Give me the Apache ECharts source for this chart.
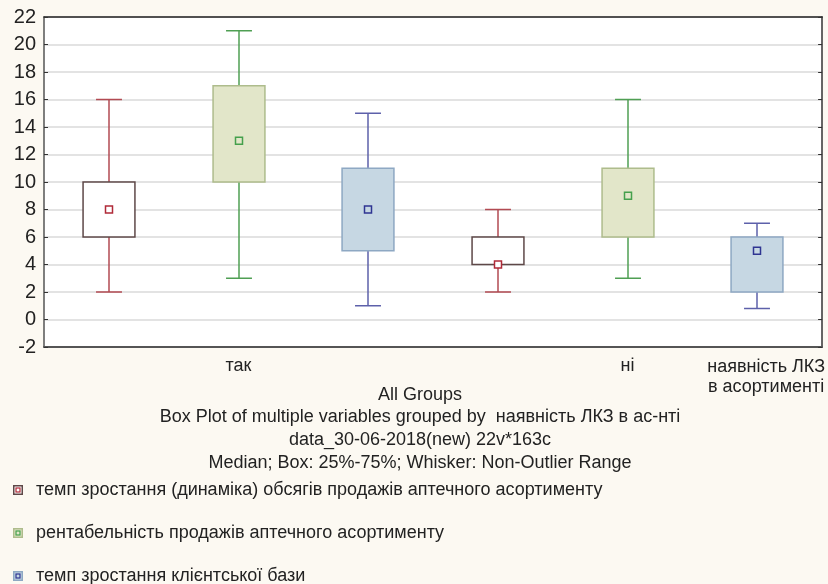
<!DOCTYPE html>
<html>
<head>
<meta charset="utf-8">
<script src="https://cdn.jsdelivr.net/npm/echarts@6/dist/echarts.min.js"></script>
<style>
html,body{margin:0;padding:0;background:#fcf9f2;}
#chart{width:828px;height:584px;}
</style>
</head>
<body>
<div id="chart"></div>
<script>
// ---- data ----
const groups = ['так', 'ні'];
const seriesNames = [
  'темп зростання (динаміка) обсягів продажів аптечного асортименту',
  'рентабельність продажів аптечного асортименту',
  'темп зростання клієнтської бази'
];
// [min, Q1, median, Q3, max] per group (так, ні)
const salesGrowth   = [[2, 6, 8, 10, 16], [2, 4, 4, 6, 8]];
const profitability = [[3, 10, 13, 17, 21], [3, 6, 9, 11, 16]];
const clientGrowth  = [[1, 5, 8, 11, 15], [0.8, 2, 5, 6, 7]];
const yMin = -2, yMax = 22, yInterval = 2;
const xAxisName = 'наявність ЛКЗ\nв асортименті';
const titleLines = [
  'All Groups',
  'Box Plot of multiple variables grouped by  наявність ЛКЗ в ас-нті',
  'data_30-06-2018(new) 22v*163c',
  'Median; Box: 25%-75%; Whisker: Non-Outlier Range'
];

// ---- styles ----
const FONT = '"Liberation Sans", Arial, sans-serif';
const styles = [
  {whisker: '#b24a52', fill: '#ffffff', border: '#5e4848', med: '#b02a38', medFill: '#ffffff'},
  {whisker: '#4f9f53', fill: '#e2e6c9', border: '#aebc8c', med: '#45a04c', medFill: '#e2e6c9'},
  {whisker: '#5d60aa', fill: '#c6d7e3', border: '#8ea8c3', med: '#2f3592', medFill: '#c6d7e3'}
];
const allSeries = [salesGrowth, profitability, clientGrowth];
const nSeries = allSeries.length;
const slots = [];
groups.forEach(g => seriesNames.forEach((s, i) => slots.push(g + '|' + i)));

function makeRender(st) {
  return function (params, api) {
    const x = api.value(0);
    const c = v => api.coord([x, v]);
    const pMin = c(api.value(1)), pQ1 = c(api.value(2)), pMed = c(api.value(3)),
          pQ3 = c(api.value(4)), pMax = c(api.value(5));
    const band = api.size([1, 0])[0];
    const bw = band * 0.4, cw = band * 0.2;
    const cx = Math.round(pMed[0]);
    const ls = {stroke: st.whisker, lineWidth: 1.5};
    return {
      type: 'group',
      children: [
        {type: 'line', shape: {x1: cx, y1: pMax[1], x2: cx, y2: pQ3[1]}, style: ls},
        {type: 'line', shape: {x1: cx, y1: pQ1[1], x2: cx, y2: pMin[1]}, style: ls},
        {type: 'line', shape: {x1: cx - cw / 2, y1: pMax[1], x2: cx + cw / 2, y2: pMax[1]}, style: ls},
        {type: 'line', shape: {x1: cx - cw / 2, y1: pMin[1], x2: cx + cw / 2, y2: pMin[1]}, style: ls},
        {type: 'rect', shape: {x: cx - bw / 2, y: pQ3[1], width: bw, height: pQ1[1] - pQ3[1]},
         style: {fill: st.fill, stroke: st.border, lineWidth: 1.5}},
        {type: 'rect', shape: {x: cx - 3.5, y: pMed[1] - 3.5, width: 7, height: 7},
         style: {fill: st.medFill, stroke: st.med, lineWidth: 1.5}}
      ]
    };
  };
}

function legendIcon(st) {
  const svg = "<svg xmlns='http://www.w3.org/2000/svg' width='18' height='10'>" +
    "<rect x='0.75' y='0.75' width='8.5' height='8.5' fill='" + st.fill + "' stroke='" + st.border + "' stroke-width='1.5'/>" +
    "<rect x='3' y='3' width='4' height='4' fill='none' stroke='" + st.med + "' stroke-width='1.2'/></svg>";
  return 'image://data:image/svg+xml;charset=utf-8,' + encodeURIComponent(svg);
}

const series = allSeries.map((vals, si) => ({
  name: seriesNames[si],
  type: 'custom',
  xAxisIndex: 0,
  yAxisIndex: 0,
  encode: {x: 0, y: [1, 2, 3, 4, 5]},
  renderItem: makeRender(styles[si]),
  data: vals.map((v, gi) => [gi * nSeries + si].concat(v))
}));

const titles = titleLines.map((t, i) => ({
  text: t,
  left: 420,
  top: [384, 406, 429, 452][i],
  textAlign: 'center',
  padding: 0,
  textStyle: {fontSize: 18, fontWeight: 'normal', color: '#222', fontFamily: FONT, lineHeight: 22}
}));

const chart = echarts.init(document.getElementById('chart'), null, {renderer: 'canvas'});
chart.setOption({
  backgroundColor: '#fcf9f2',
  animation: false,
  title: titles,
  grid: {left: 44, right: 4, top: 17, bottom: 237, show: true, backgroundColor: '#ffffff', borderWidth: 0},
  legend: {
    left: 13,
    top: 481,
    width: 800,
    height: 200,
    padding: 0,
    orient: 'vertical',
    itemWidth: 18,
    itemHeight: 10,
    itemGap: 25,
    selectedMode: false,
    textStyle: {fontSize: 18, color: '#222', fontFamily: FONT, lineHeight: 18},
    data: seriesNames.map((n, i) => ({name: n, icon: legendIcon(styles[i])}))
  },
  xAxis: [
    {type: 'category', data: slots, position: 'bottom', show: false, boundaryGap: true,
     axisLine: {onZero: false}},
    {type: 'category', data: groups, position: 'bottom', boundaryGap: true,
     axisLine: {onZero: false, lineStyle: {color: '#555', width: 2}},
     axisTick: {inside: true, alignWithLabel: true, length: 5, lineStyle: {color: '#333'}},
     axisLabel: {fontSize: 18, color: '#222', margin: 10, fontFamily: FONT},
     name: xAxisName, nameLocation: 'end', nameGap: -56,
     nameTextStyle: {fontSize: 18, color: '#222', fontFamily: FONT, align: 'center',
                     verticalAlign: 'top', lineHeight: 20, padding: [10, 0, 0, 0]},
     splitLine: {show: false}},
    {type: 'category', data: groups, position: 'top', boundaryGap: true,
     axisLine: {onZero: false, lineStyle: {color: '#222', width: 1.5}},
     axisTick: {inside: true, alignWithLabel: true, length: 5, lineStyle: {color: '#333'}},
     axisLabel: {show: false}, splitLine: {show: false}}
  ],
  yAxis: [
    {type: 'value', min: yMin, max: yMax, interval: yInterval, position: 'left',
     axisLine: {show: true, onZero: false, lineStyle: {color: '#555', width: 1.5}},
     axisTick: {show: true, inside: true, length: 4, lineStyle: {color: '#333'}},
     axisLabel: {fontSize: 20, color: '#222', margin: 8, fontFamily: FONT},
     splitLine: {show: true, lineStyle: {color: '#e3e3e3', width: 2}}},
    {type: 'value', min: yMin, max: yMax, interval: yInterval, position: 'right',
     axisLine: {show: true, onZero: false, lineStyle: {color: '#333', width: 1.5}},
     axisTick: {show: true, inside: true, length: 4, lineStyle: {color: '#333'}},
     axisLabel: {show: false}, splitLine: {show: false}}
  ],
  series: series
});
</script>
</body>
</html>
